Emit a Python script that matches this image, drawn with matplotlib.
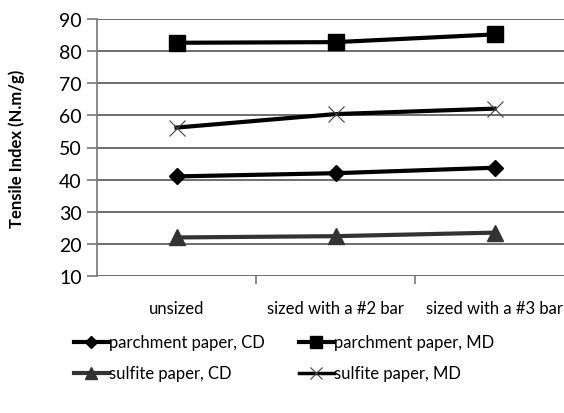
import matplotlib.pyplot as plt
from matplotlib.lines import Line2D

plt.rcParams['font.family'] = ['Lato', 'DejaVu Sans']

categories = ['unsized', 'sized with a #2 bar', 'sized with a #3 bar']
parchment_cd = [41.0, 42.0, 43.7]
parchment_md = [82.6, 82.8, 85.2]
sulfite_cd = [22.0, 22.4, 23.5]
sulfite_md = [56.2, 60.4, 62.1]

fig = plt.figure(figsize=(5.64, 4.14), dpi=100)
# axes runs a bit past the right edge, like the source
ax = fig.add_axes([97 / 564, 1 - 277 / 414, 477 / 564, 257 / 414])

x = range(len(categories))
ax.plot(x, parchment_md, '-', color='black', lw=3, marker='s', ms=11, zorder=3)
ax.plot(x, sulfite_md, '-', color='black', lw=3, marker='x', ms=12,
        mew=0.8, mec='#444444', zorder=3)
ax.plot(x, parchment_cd, '-', color='black', lw=3, marker='D', ms=8, zorder=3)
ax.plot(x, sulfite_cd, '-', color='#333333', lw=3, marker='^', ms=11, zorder=3)

ax.set_xlim(-0.5, 2.5)
ax.set_ylim(10, 90)
ax.set_yticks(range(10, 91, 10))
ax.grid(axis='y', color='#555555', lw=1.2)
ax.set_axisbelow(True)
for s in ['top', 'right', 'bottom']:
    ax.spines[s].set_visible(False)
ax.spines['left'].set_color('#777777')
ax.spines['left'].set_linewidth(1.2)

ax.set_xticks([0.5, 1.5, 2.5])
ax.set_xticklabels([])
ax.tick_params(axis='x', direction='out', length=6, color='#777777', width=1.2)
ax.tick_params(axis='y', direction='out', length=7, color='#777777', width=1.2,
               labelsize=14, pad=4)
for i, c in enumerate(categories):
    ax.text(i, 2.6, c, ha='center', va='top', fontsize=12, clip_on=False)

ax.set_ylabel('Tensile Index (N.m/g)', fontsize=12, fontweight='bold')
ax.yaxis.set_label_coords(-0.15, 0.5)

handles = [
    Line2D([], [], color='black', lw=3, marker='D', ms=6),
    Line2D([], [], color='#333333', lw=3, marker='^', ms=8),
    Line2D([], [], color='black', lw=3, marker='s', ms=8),
    Line2D([], [], color='black', lw=2.5, marker='x', ms=9, mew=0.8, mec='#444444'),
]
labels = ['parchment paper, CD', 'sulfite paper, CD',
          'parchment paper, MD', 'sulfite paper, MD']
fig.legend(handles, labels, ncol=2, frameon=False, fontsize=12,
           loc='center', bbox_to_anchor=(284 / 564, 1 - 359 / 414),
           handlelength=2.1, handletextpad=0.0, columnspacing=2.05,
           labelspacing=0.9)

fig.savefig('out.png', dpi=100)
